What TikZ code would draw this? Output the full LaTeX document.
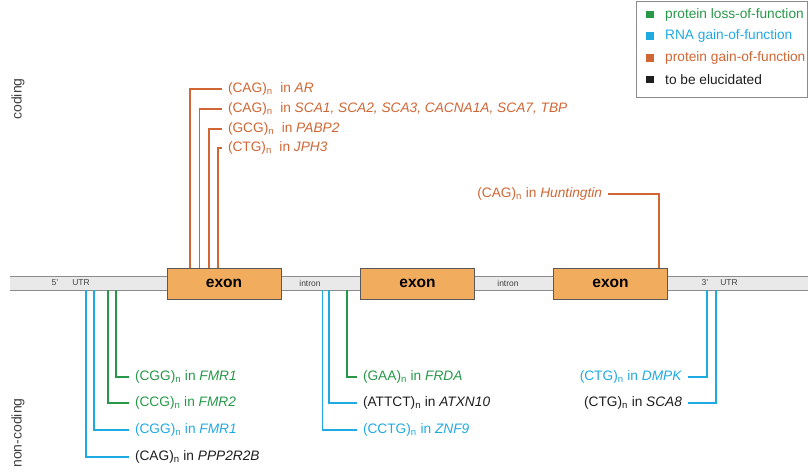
\documentclass[tikz,border=0pt]{standalone}
\usepackage{fontspec}
\setmainfont{Liberation Sans}
\usetikzlibrary{calc}
\tikzset{>=latex}
\definecolor{lossgreen}{RGB}{38,152,72}
\definecolor{rnablue}{RGB}{32,170,226}
\definecolor{gainorange}{RGB}{208,102,52}
\definecolor{unkblack}{RGB}{30,30,30}
\definecolor{exonfill}{RGB}{242,172,94}
\definecolor{stripfill}{RGB}{233,233,233}
\newcommand{\rpt}[2]{(#1)\textsubscript{n}\ in \textit{#2}}
\newcommand{\rptw}[2]{(#1)\textsubscript{n}\ \ in \textit{#2}}

\begin{document}
\begin{tikzpicture}[x=1pt,y=-1pt,
  exon/.style={draw=black!65, fill=exonfill, line width=1pt, minimum width=114pt, minimum height=31pt, inner sep=0pt, font=\fontsize{15.5}{18}\selectfont\bfseries},
  striplbl/.style={inner sep=0pt, text=black!75, font=\fontsize{8.5}{10}\selectfont},
  lbl/.style={inner sep=0pt, outer xsep=6pt, font=\fontsize{13.7}{16}\selectfont},
  legsq/.style={minimum size=7.5pt, inner sep=0pt},
  leglbl/.style={anchor=west, inner sep=0pt, font=\fontsize{13.7}{16}\selectfont},
  side/.style={rotate=90, inner sep=0pt, text=black!75, font=\fontsize{14}{16}\selectfont},
  conn/.style={line width=1.1pt}]
\useasboundingbox (0,0) rectangle (808,474);

% gene backbone
\fill[stripfill] (10,276) rectangle (808,290);
\draw[black!45, line width=1pt] (10,276) -- (808,276) (10,290) -- (808,290);
\node[exon] (exA) at (224,283.5) {exon};
\node[exon] (exB) at (417.5,283.5) {exon};
\node[exon] (exC) at (610.5,283.5) {exon};
\node[striplbl] (fivep) at (55,283) {5'};
\node[striplbl] (utrA) at (81,283) {UTR};
\node[striplbl] (intA) at (310,283) {intron};
\node[striplbl] (intB) at (508,283) {intron};
\node[striplbl] (threep) at (705,283) {3'};
\node[striplbl] (utrB) at (729,283) {UTR};

% side labels
\node[side] (codlbl) at (18,99) {coding};
\node[side] (nclbl) at (18,433) {non-coding};

% coding repeats
\coordinate (pa1) at (190,268);
\coordinate (pa2) at (199.5,268);
\coordinate (pa3) at (209,268);
\coordinate (pa4) at (218,268);
\coordinate (pc1) at (659,268);
\node[lbl, anchor=west, text=gainorange] (ar) at (222,89) {\rptw{CAG}{AR}};
\node[lbl, anchor=west, text=gainorange] (sca) at (222,109) {\rptw{CAG}{SCA1, SCA2, SCA3, CACNA1A, SCA7, TBP}};
\node[lbl, anchor=west, text=gainorange] (pabp) at (222,129) {\rptw{GCG}{PABP2}};
\node[lbl, anchor=west, text=gainorange] (jph) at (222,148) {\rptw{CTG}{JPH3}};
\node[lbl, anchor=east, text=gainorange] (htt) at (608,194) {\rpt{CAG}{Huntingtin}};
\draw[conn, gainorange] (ar.west) -| (pa1);
\draw[conn, gainorange] (sca.west) -| (pa2);
\draw[conn, gainorange] (pabp.west) -| (pa3);
\draw[conn, gainorange] (jph.west) -| (pa4);
\draw[conn, gainorange] (htt.east) -| (pc1);

% non-coding repeats, 5' UTR
\coordinate (na1) at (86,290);
\coordinate (na2) at (94,290);
\coordinate (na3) at (108,290);
\coordinate (na4) at (116,290);
\node[lbl, anchor=west, text=lossgreen] (fmrg) at (129,377) {\rpt{CGG}{FMR1}};
\node[lbl, anchor=west, text=lossgreen] (fmrtwo) at (129,403) {\rpt{CCG}{FMR2}};
\node[lbl, anchor=west, text=rnablue] (fmrb) at (129,430) {\rpt{CGG}{FMR1}};
\node[lbl, anchor=west, text=unkblack] (ppp) at (129,457) {\rpt{CAG}{PPP2R2B}};
\draw[conn, lossgreen] (na4) |- (fmrg.west);
\draw[conn, lossgreen] (na3) |- (fmrtwo.west);
\draw[conn, rnablue] (na2) |- (fmrb.west);
\draw[conn, rnablue] (na1) |- (ppp.west);

% non-coding repeats, intron
\coordinate (nb1) at (322.5,290);
\coordinate (nb2) at (329,290);
\coordinate (nb3) at (347,290);
\node[lbl, anchor=west, text=lossgreen] (frda) at (357,377) {\rpt{GAA}{FRDA}};
\node[lbl, anchor=west, text=unkblack] (atxn) at (357,403) {\rpt{ATTCT}{ATXN10}};
\node[lbl, anchor=west, text=rnablue] (znf) at (357,430) {\rpt{CCTG}{ZNF9}};
\draw[conn, lossgreen] (nb3) |- (frda.west);
\draw[conn, rnablue] (nb2) |- (atxn.west);
\draw[conn, rnablue] (nb1) |- (znf.west);

% non-coding repeats, 3' UTR
\coordinate (nc1) at (707,290);
\coordinate (nc2) at (716,290);
\node[lbl, anchor=east, text=rnablue] (dmpk) at (688,377) {\rpt{CTG}{DMPK}};
\node[lbl, anchor=east, text=unkblack] (scaeight) at (688,403) {\rpt{CTG}{SCA8}};
\draw[conn, rnablue] (nc1) |- (dmpk.east);
\draw[conn, rnablue] (nc2) |- (scaeight.east);

% legend
\draw[black!45, line width=0.8pt] (636,1) rectangle (807.5,97);
\node[legsq, fill=lossgreen] (sqA) at (650,14.5) {};
\node[legsq, fill=rnablue] (sqB) at (650,36) {};
\node[legsq, fill=gainorange] (sqC) at (650,58) {};
\node[legsq, fill=unkblack] (sqD) at (650,79.5) {};
\node[leglbl, text=lossgreen] (lgA) at (665,14.5) {protein loss-of-function};
\node[leglbl, text=rnablue] (lgB) at (665,36) {RNA gain-of-function};
\node[leglbl, text=gainorange] (lgC) at (665,58) {protein gain-of-function};
\node[leglbl, text=unkblack] (lgD) at (665,79.5) {to be elucidated};
\end{tikzpicture}
\end{document}
